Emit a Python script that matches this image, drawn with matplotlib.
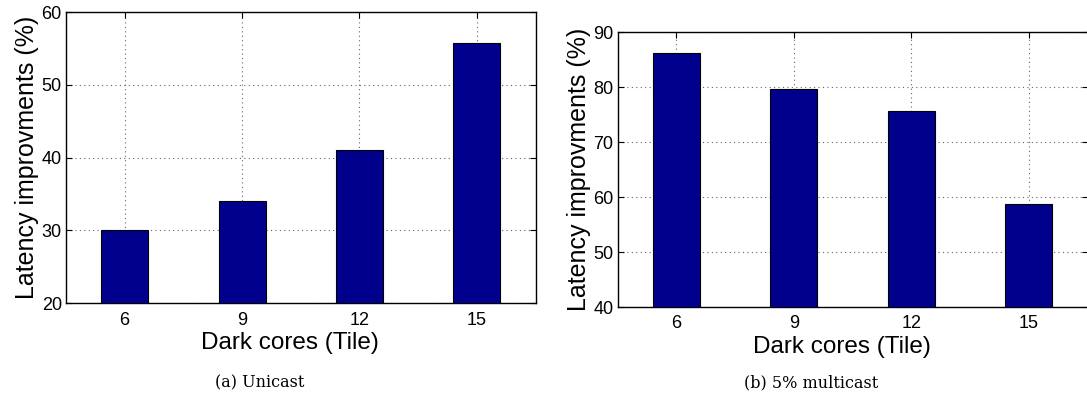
import numpy as np
import matplotlib.pyplot as plt

# dark core counts and latency improvement (%) per traffic pattern
dark_cores = [6, 9, 12, 15]
unicast_gain = [30.0, 34.0, 41.0, 55.7]
multicast_gain = [86.3, 79.6, 75.7, 58.8]

bar_color = '#00008c'
W, H = 1087, 396


def draw_panel(ax, values, ylim, yticks):
    ax.bar(dark_cores, values, width=1.2, color=bar_color,
           edgecolor='black', linewidth=0.8, zorder=3)
    ax.set_xlim(4.5, 16.5)
    ax.set_ylim(*ylim)
    ax.set_xticks(dark_cores)
    ax.set_yticks(yticks)
    ax.grid(True, linestyle=(0, (1, 3)), color='#666666', linewidth=0.8, zorder=0)
    ax.tick_params(direction='in', top=True, right=True, length=4, labelsize=13)
    ax.tick_params(axis='x', pad=6)
    ax.tick_params(axis='y', pad=3)
    for s in ax.spines.values():
        s.set_linewidth(1.0)
    ax.set_xlabel('Dark cores (Tile)', fontsize=17.5, labelpad=0)
    # label sits 29 px under the bottom spine, a little left of centre
    bbox = ax.get_position()
    ax.xaxis.set_label_coords(0.477, -29 / (bbox.height * H))
    ax.set_ylabel('Latency improvments (%)', fontsize=18, labelpad=2)


plt.rcParams['font.family'] = ['Liberation Sans', 'DejaVu Sans']
fig = plt.figure(figsize=(W / 100, H / 100), dpi=100)

# axes placed in pixel units converted to figure fractions
ax1 = fig.add_axes([66 / W, 1 - 303.3 / H, (535.5 - 66) / W, (303.3 - 12) / H])
ax2 = fig.add_axes([617.7 / W, 1 - 307 / H, (1087.5 - 617.7) / W, (307 - 32.3) / H])

draw_panel(ax1, unicast_gain, (20, 60), np.arange(20, 61, 10))
draw_panel(ax2, multicast_gain, (40, 90), np.arange(40, 91, 10))

fig.text(260 / W, 1 - 383 / H, '(a) Unicast', ha='center', va='center',
         fontsize=11.5, family='DejaVu Serif')
fig.text(811 / W, 1 - 383 / H, '(b) 5% multicast', ha='center', va='center',
         fontsize=11.5, family='DejaVu Serif')

fig.savefig('out.png', dpi=100)
